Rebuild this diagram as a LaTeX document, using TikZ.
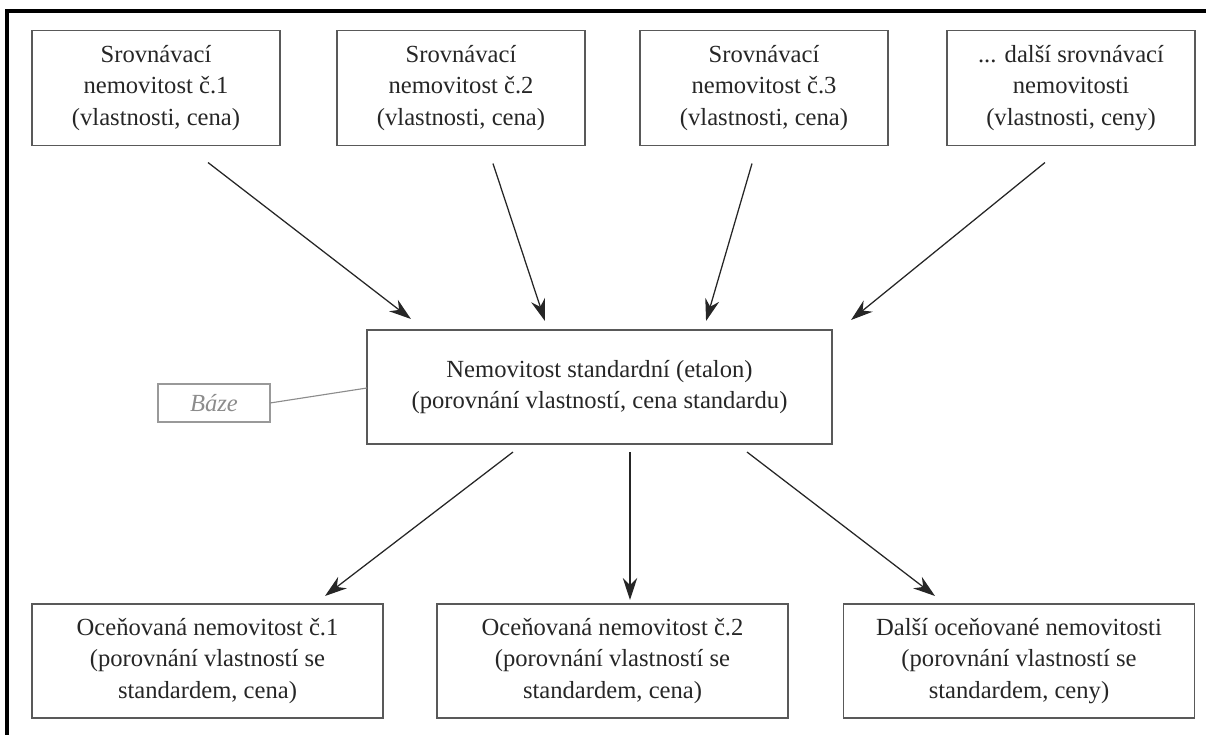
\documentclass[tikz,border=0pt]{standalone}
\usepackage{fontspec}
\setmainfont{Liberation Serif}
\usetikzlibrary{arrows.meta,calc}

\begin{document}
\begin{tikzpicture}[x=0.025cm, y=-0.025cm,
  every node/.style={outer sep=0pt, text=black!85, font=\fontsize{17.5}{22.5}\selectfont},
  box/.style={draw=black!65, line width=0.9pt, align=center, inner sep=0pt},
  topbox/.style={box, minimum width=6.2cm, minimum height=2.875cm},
  botbox/.style={box, minimum width=8.775cm, minimum height=2.85cm},
  arr/.style={draw=black!85, line width=0.9pt, -{Stealth[length=0.55cm, width=0.36cm]}}]
\useasboundingbox (0,0) rectangle (1206,735);
\draw[line width=2.2pt] (7,735) -- (7,11) -- (1206,11);

\node[topbox] (s1) at (156,88) {Srovnávací\\nemovitost č.1\\(vlastnosti, cena)};
\node[topbox] (s2) at (461,88) {Srovnávací\\nemovitost č.2\\(vlastnosti, cena)};
\node[topbox] (s3) at (764,88) {Srovnávací\\nemovitost č.3\\(vlastnosti, cena)};
\node[topbox] (s4) at (1071,88) {... další srovnávací\\nemovitosti\\(vlastnosti, ceny)};

\node[box, minimum width=11.625cm, minimum height=2.85cm] (etalon) at (599.5,387)
  {Nemovitost standardní (etalon)\\(porovnání vlastností, cena standardu)};
\node[box, draw=black!40, text=black!45, font=\fontsize{17.5}{22.5}\selectfont\itshape,
  minimum width=2.8cm, minimum height=0.95cm] (baze) at (214,403) {Báze};

\node[botbox] (o1) at (207.5,661) {Oceňovaná nemovitost č.1\\(porovnání vlastností se\\standardem, cena)};
\node[botbox] (o2) at (612.5,661) {Oceňovaná nemovitost č.2\\(porovnání vlastností se\\standardem, cena)};
\node[botbox] (o3) at (1019,661) {Další oceňované nemovitosti\\(porovnání vlastností se\\standardem, ceny)};

% into the standard
\draw[arr] ($(s1.south)+(52,17)$) -- ($(etalon.north west)+(44,-11)$);
\draw[arr] ($(s2.south)+(32,18)$) -- ($(etalon.north west)+(178,-9)$);
\draw[arr] ($(s3.south)+(-12,18)$) -- ($(etalon.north east)+(-126,-9)$);
\draw[arr] ($(s4.south)+(-26,17)$) -- ($(etalon.north east)+(19,-10)$);

% out of the standard
\draw[arr] ($(etalon.south)+(-86.5,8)$) -- ($(o1.north)+(117.5,-8)$);
\draw[arr] ($(etalon.south)+(30.5,8)$) -- ($(o2.north)+(17.5,-4)$);
\draw[arr] ($(etalon.south)+(147.5,8)$) -- ($(o3.north)+(-84,-8)$);

\draw[draw=black!45, line width=0.8pt] (baze.east) -- ($(etalon.west)+(0,1)$);
\end{tikzpicture}
\end{document}
